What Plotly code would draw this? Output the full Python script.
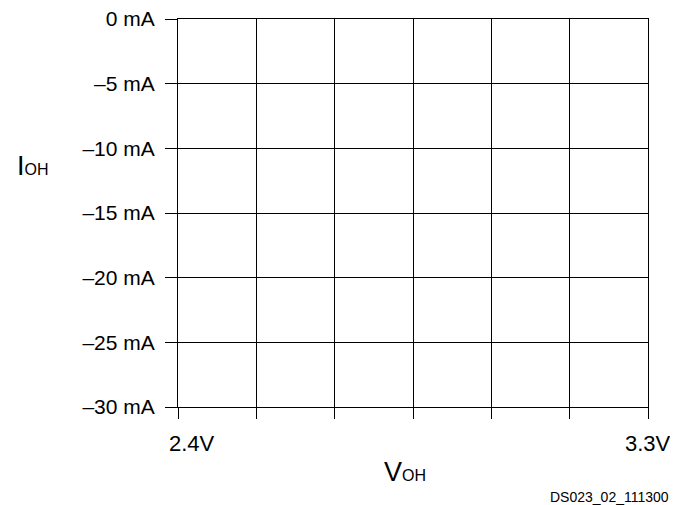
import plotly.graph_objects as go

# Data / labels
x_ticks = [2.4, 2.55, 2.7, 2.85, 3.0, 3.15, 3.3]
x_tick_labels = ["2.4V", "", "", "", "", "", "3.3V"]
y_ticks = [0, -5, -10, -15, -20, -25, -30]
y_tick_labels = ["0 mA", "\u20135 mA", "\u201310 mA", "\u201315 mA", "\u201320 mA", "\u201325 mA", "\u201330 mA"]
x_title = "<span style='font-size:27px'>V</span>OH"
y_title = "<span style='font-size:27px'>I</span>OH"
footnote = "DS023_02_111300"

FONT = "Liberation Sans, Arial, sans-serif"

# page offset of the figure inside the browser (body margin)
OFF = 8
W, H = 678, 505
L, R, T, B = 170, 38, 11, 106
PW, PH = W - L - R, H - T - B


def px_to_paper(sx, sy):
    return (sx - OFF - L) / PW, (H - B - (sy - OFF)) / PH


fig = go.Figure()
fig.add_trace(go.Scatter(x=[x_ticks[0], x_ticks[-1]], y=[y_ticks[-1], y_ticks[0]],
                         mode="markers", marker=dict(opacity=0), hoverinfo="skip",
                         showlegend=False))

fig.update_layout(
    width=W, height=H,
    margin=dict(l=L, r=R, t=T, b=B, autoexpand=False),
    paper_bgcolor="white", plot_bgcolor="white",
    font=dict(family=FONT, size=20, color="black"),
    showlegend=False,
)

fig.update_xaxes(
    range=[x_ticks[0], x_ticks[-1]],
    tickmode="array", tickvals=x_ticks, ticktext=["" for _ in x_ticks],
    ticks="outside", ticklen=11, tickwidth=1, tickcolor="black",
    showgrid=True, gridcolor="black", gridwidth=1,
    showline=True, linecolor="black", linewidth=1, mirror=True,
    zeroline=False, fixedrange=True, automargin=False,
)
fig.update_yaxes(
    range=[y_ticks[-1], y_ticks[0]],
    tickmode="array", tickvals=y_ticks, ticktext=y_tick_labels,
    ticks="outside", ticklen=12, tickwidth=1, tickcolor="black",
    ticklabelstandoff=6, ticklabeloverflow="allow",
    tickfont=dict(family=FONT, size=21, color="black"),
    showgrid=True, gridcolor="black", gridwidth=1,
    showline=True, linecolor="black", linewidth=1, mirror=True,
    zeroline=False, fixedrange=True, automargin=False,
)

annotations = []
for xv, lab in zip(x_ticks, x_tick_labels):
    if not lab:
        continue
    first = xv == x_ticks[0]
    annotations.append(dict(x=xv, y=0, xref="x", yref="paper", text=lab,
                            showarrow=False,
                            xanchor="left" if first else "right",
                            yanchor="middle",
                            xshift=-11 if first else 25, yshift=-36,
                            font=dict(size=22)))

fx, fy = px_to_paper(405, 472)
annotations.append(dict(x=fx, y=fy, xref="paper", yref="paper", text=x_title,
                        showarrow=False, xanchor="center", yanchor="middle",
                        font=dict(size=16)))
fx, fy = px_to_paper(33, 166)
annotations.append(dict(x=fx, y=fy, xref="paper", yref="paper", text=y_title,
                        showarrow=False, xanchor="center", yanchor="middle",
                        font=dict(size=16)))
fx, fy = px_to_paper(609, 497)
annotations.append(dict(x=fx, y=fy, xref="paper", yref="paper", text=footnote,
                        showarrow=False, xanchor="center", yanchor="middle",
                        font=dict(size=14)))

fig.update_layout(annotations=annotations)

fig.write_html("out.html")
